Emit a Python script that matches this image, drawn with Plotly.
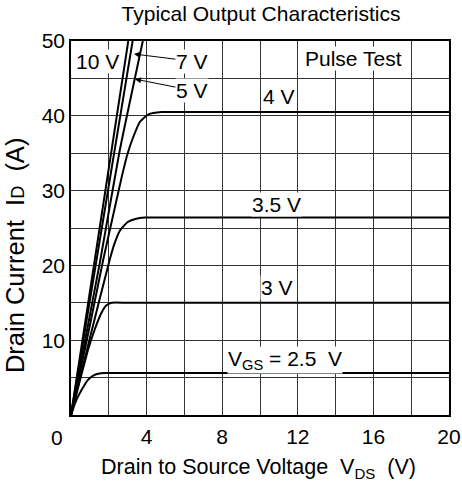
import plotly.graph_objects as go

# ---- data ----
vgs_labels = ["10 V", "7 V", "5 V", "4 V", "3.5 V", "3 V", "2.5 V"]

v_10 = [0, 3.03]
i_10 = [0, 50]

v_7 = [0, 3.26]
i_7 = [0, 50]

v_5 = [0, 1.55, 2.55, 3.8]
i_5 = [0, 20.7, 35, 50]

v_4 = [0, 1.0, 1.7, 2.3, 2.7, 3.0, 3.3, 3.65, 4.1, 4.8, 6, 20]
i_4 = [0, 12, 20.7, 27.5, 32, 35, 37.2, 39.2, 40.2, 40.5, 40.5, 40.5]

v_35 = [0, 1.0, 2.0, 2.3, 2.6, 3.0, 3.4, 3.9, 5, 20]
i_35 = [0, 10.3, 20.3, 22.9, 24.7, 25.8, 26.2, 26.4, 26.4, 26.4]

v_3 = [0, 0.5, 0.9, 1.25, 1.6, 1.85, 2.15, 3, 20]
i_3 = [0, 4.9, 8.7, 11.4, 13.6, 14.6, 15.0, 15.0, 15.0]

v_25 = [0, 0.25, 0.55, 0.9, 1.2, 1.5, 1.75, 2.5, 20]
i_25 = [0, 1.8, 3.3, 4.7, 5.3, 5.55, 5.6, 5.6, 5.6]

x_tickvals = [4, 8, 12, 16, 20]
x_ticktext = ["4", "8", "12", "16", "20"]
y_tickvals = [10, 20, 30, 40, 50]
y_ticktext = ["10", "20", "30", "40", "50"]
x_grid_step = 2
y_grid_step = 5

FONT = "Liberation Sans, Arial, sans-serif"
GRID = "#333333"
CLEAR = "rgba(0,0,0,0)"

fig = go.Figure()
curves = [(v_10, i_10), (v_7, i_7), (v_5, i_5), (v_4, i_4),
          (v_35, i_35), (v_3, i_3), (v_25, i_25)]
for (vx, iy), name in zip(curves, vgs_labels):
    fig.add_trace(go.Scatter(x=vx, y=iy, mode="lines", name=name,
                             line=dict(color="black", width=2, shape="spline", smoothing=0.5),
                             showlegend=False, hoverinfo="skip"))

fig.update_layout(
    width=462, height=487,
    margin=dict(l=71, r=13, t=41, b=72, pad=0),
    paper_bgcolor="white", plot_bgcolor="white",
    title=dict(text="Typical Output Characteristics", x=0.565, xanchor="center",
               y=1 - 14 / 487, yanchor="middle", yref="container",
               font=dict(family=FONT, size=21, color="black")),
    xaxis=dict(range=[0, 20], tickmode="array", tickvals=x_tickvals, ticktext=x_ticktext,
               automargin=False,
               showgrid=True, gridcolor=GRID, gridwidth=1, zeroline=False,
               minor=dict(dtick=x_grid_step, tick0=0, showgrid=True,
                          gridcolor=GRID, gridwidth=1, ticks=""),
               showline=True, linecolor="black", linewidth=1.5, mirror=True,
               ticks="outside", ticklen=2, tickcolor=CLEAR,
               tickfont=dict(family=FONT, size=21, color="black")),
    yaxis=dict(range=[0, 50], tickmode="array", tickvals=y_tickvals, ticktext=y_ticktext,
               automargin=False,
               showgrid=True, gridcolor=GRID, gridwidth=1, zeroline=False,
               minor=dict(dtick=y_grid_step, tick0=0, showgrid=True,
                          gridcolor=GRID, gridwidth=1, ticks=""),
               showline=True, linecolor="black", linewidth=1.5, mirror=True,
               ticks="", tickfont=dict(family=FONT, size=21, color="black")),
)

ann_font = dict(family=FONT, size=21, color="black")
labels = [
    ("10 V", 1.38, 47.2),
    ("4 V", 11.0, 42.6),
    ("Pulse Test", 14.97, 47.7),
    ("3.5 V", 10.85, 28.1),
    ("3 V", 10.9, 17.1),
    ("V<sub>GS</sub> = 2.5  V", 11.3, 7.4),
]
for text, x, y in labels:
    fig.add_annotation(x=x, y=y, text=text, showarrow=False, font=ann_font,
                       bgcolor="white", borderpad=0, xref="x", yref="y")

arrows = [
    ("7 V", 3.33, 48.26, 6.4, 47.3),
    ("5 V", 3.39, 44.9, 6.4, 43.4),
]
for text, x, y, ax, ay in arrows:
    fig.add_annotation(x=x, y=y, ax=ax, ay=ay, axref="x", ayref="y",
                       text=text, showarrow=True, arrowhead=2, arrowsize=1.2,
                       arrowwidth=1, arrowcolor="black", font=ann_font,
                       bgcolor="white", borderpad=0, standoff=0)

# shared origin label
fig.add_annotation(x=-0.037, y=-0.059, xref="paper", yref="paper", text="0",
                   showarrow=False, font=dict(family=FONT, size=21, color="black"),
                   xanchor="center", yanchor="middle")

# axis titles
fig.add_annotation(x=0.497, y=-0.142, xref="paper", yref="paper",
                   text="Drain to Source Voltage  V<sub>DS</sub>  (V)",
                   showarrow=False, font=dict(family=FONT, size=21.5, color="black"),
                   xanchor="center", yanchor="middle")
fig.add_annotation(x=-0.148, y=0.425, xref="paper", yref="paper",
                   text="Drain Current  I<span style=\"font-size:18px\">D</span>  (A)",
                   textangle=-90, showarrow=False,
                   font=dict(family=FONT, size=25.5, color="black"),
                   xanchor="center", yanchor="middle")

fig.write_html("out.html", post_script="document.body.style.margin='0';",
               config={"displayModeBar": False})
